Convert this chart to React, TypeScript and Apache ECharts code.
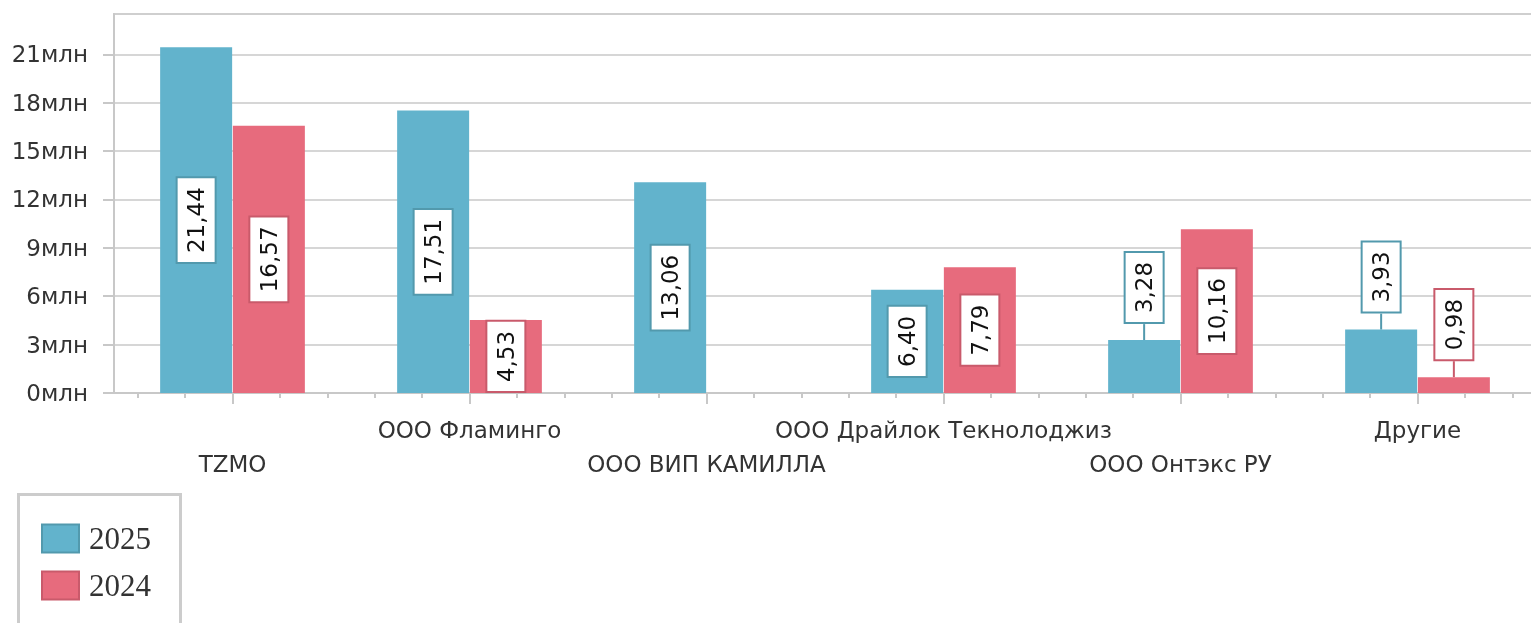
import React, { useEffect, useRef } from 'react';
import * as echarts from 'echarts';

const categories = ['TZMO', 'ООО Фламинго', 'ООО ВИП КАМИЛЛА', 'ООО Драйлок Текнолоджиз', 'ООО Онтэкс РУ', 'Другие'];
const values2025 = [21.44, 17.51, 13.06, 6.4, 3.28, 3.93];
const values2024: (number | null)[] = [16.57, 4.53, null, 7.79, 10.16, 0.98];
const yLabelValues = [0, 3, 6, 9, 12, 15, 18, 21];
const yMinorValues = [1, 2, 4, 5, 7, 8, 10, 11, 13, 14, 16, 17, 19, 20, 22, 23];
const seriesNames = ['2025', '2024'];

const FONT = 'DejaVu Sans';
const BLUE = '#62b3cc';
const BLUE_DARK = '#5299ad';
const RED = '#e76b7d';
const RED_DARK = '#c95a6b';

const fmt = (v: number) => v.toFixed(2).replace('.', ',');

function makeData(values: (number | null)[], dark: string) {
  return values.map((v) => {
    if (v == null) return '-';
    const outside = v < 4;
    return {
      value: v,
      label: outside
        ? { position: 'top', distance: 18, rotate: 90, align: 'left', verticalAlign: 'middle' }
        : { position: 'inside', rotate: 90, align: 'center', verticalAlign: 'middle' },
      labelLine: { show: outside, lineStyle: { color: dark, width: 2 } },
    };
  });
}

function barLabel(dark: string) {
  return {
    show: true,
    formatter: (p: any) => fmt(p.value),
    fontFamily: FONT,
    fontSize: 23,
    color: '#111',
    backgroundColor: '#fff',
    borderColor: dark,
    borderWidth: 2,
    padding: [8, 9, 6, 9],
  };
}

const minorCats = Array.from({ length: categories.length * 5 }, (_, i) => String(i));

export default function App() {
  const ref = useRef<HTMLDivElement>(null);
  useEffect(() => {
    document.body.style.margin = '0';
    const chart = echarts.init(ref.current!, null, { renderer: 'svg' });
    chart.setOption({
      animation: false,
      textStyle: { fontFamily: FONT },
      grid: {
        left: 114,
        top: 14,
        width: 1422,
        bottom: 230,
        outerBoundsMode: 'none',
        containLabel: false,
        show: true,
        borderColor: '#cfcfcf',
        borderWidth: 2,
        backgroundColor: 'transparent',
      },
      graphic: [
        {
          type: 'rect',
          shape: { x: 18.5, y: 494.5, width: 162, height: 200 },
          style: { fill: 'none', stroke: '#cccccc', lineWidth: 3 },
          silent: true,
        },
      ],
      legend: {
        orient: 'vertical',
        left: 41,
        top: 523,
        padding: 0,
        icon: 'rect',
        itemWidth: 37,
        itemHeight: 28,
        itemGap: 16,
        textStyle: { fontFamily: 'Liberation Serif', fontSize: 31, color: '#333', lineHeight: 28, padding: [0, 0, 0, 5] },
        data: [
          { name: seriesNames[0], icon: 'rect', itemStyle: { color: BLUE, borderColor: BLUE_DARK, borderWidth: 2 } },
          { name: seriesNames[1], icon: 'rect', itemStyle: { color: RED, borderColor: RED_DARK, borderWidth: 2 } },
        ],
      },
      xAxis: [
        {
          type: 'category',
          data: categories,
          axisLine: { show: true, lineStyle: { color: '#c8c8c8', width: 2 } },
          axisTick: { show: true, alignWithLabel: true, length: 11, lineStyle: { color: '#c8c8c8', width: 2 } },
          axisLabel: {
            interval: 0,
            margin: 20,
            fontFamily: FONT,
            fontSize: 23,
            color: '#333',
            lineHeight: 34,
            formatter: (v: string, i: number) => (i % 2 === 0 ? '\n' + v : v),
          },
          splitLine: { show: false },
        },
        {
          type: 'category',
          data: minorCats,
          position: 'bottom',
          axisLine: { show: false },
          axisTick: { show: true, alignWithLabel: true, interval: 0, length: 5, lineStyle: { color: '#c8c8c8', width: 2 } },
          axisLabel: { show: false, interval: 0 },
          splitLine: { show: false },
        },
      ],
      yAxis: [
        {
          type: 'value',
          min: 0,
          max: 23.5,
          interval: 3,
          axisLine: { show: true, lineStyle: { color: '#c8c8c8', width: 2 } },
          axisTick: { show: true, length: 11, customValues: yLabelValues, lineStyle: { color: '#c8c8c8', width: 2 } },
          axisLabel: {
            customValues: yLabelValues,
            margin: 26,
            fontFamily: FONT,
            fontSize: 23,
            color: '#333',
            formatter: (v: number) => v + 'млн',
          },
          splitLine: { show: true, lineStyle: { color: '#d6d6d6', width: 2 } },
        },
        {
          type: 'value',
          min: 0,
          max: 23.5,
          interval: 1,
          axisLine: { show: false },
          axisTick: { show: true, length: 5, customValues: yMinorValues, lineStyle: { color: '#c8c8c8', width: 2 } },
          axisLabel: { show: false },
          splitLine: { show: false },
        },
      ],
      series: [
        {
          name: seriesNames[0],
          type: 'bar',
          barWidth: 72,
          barGap: '1%',
          itemStyle: { color: BLUE },
          label: barLabel(BLUE_DARK),
          labelLine: { show: false, lineStyle: { color: BLUE_DARK, width: 2 } },
          emphasis: { disabled: true },
          data: makeData(values2025, BLUE_DARK),
        },
        {
          name: seriesNames[1],
          type: 'bar',
          barWidth: 72,
          barGap: '1%',
          itemStyle: { color: RED },
          label: barLabel(RED_DARK),
          labelLine: { show: false, lineStyle: { color: RED_DARK, width: 2 } },
          emphasis: { disabled: true },
          data: makeData(values2024, RED_DARK),
        },
      ],
    });
    return () => chart.dispose();
  }, []);
  return <div ref={ref} style={{ position: 'fixed', left: 0, top: 0, width: 1531, height: 623 }} />;
}
